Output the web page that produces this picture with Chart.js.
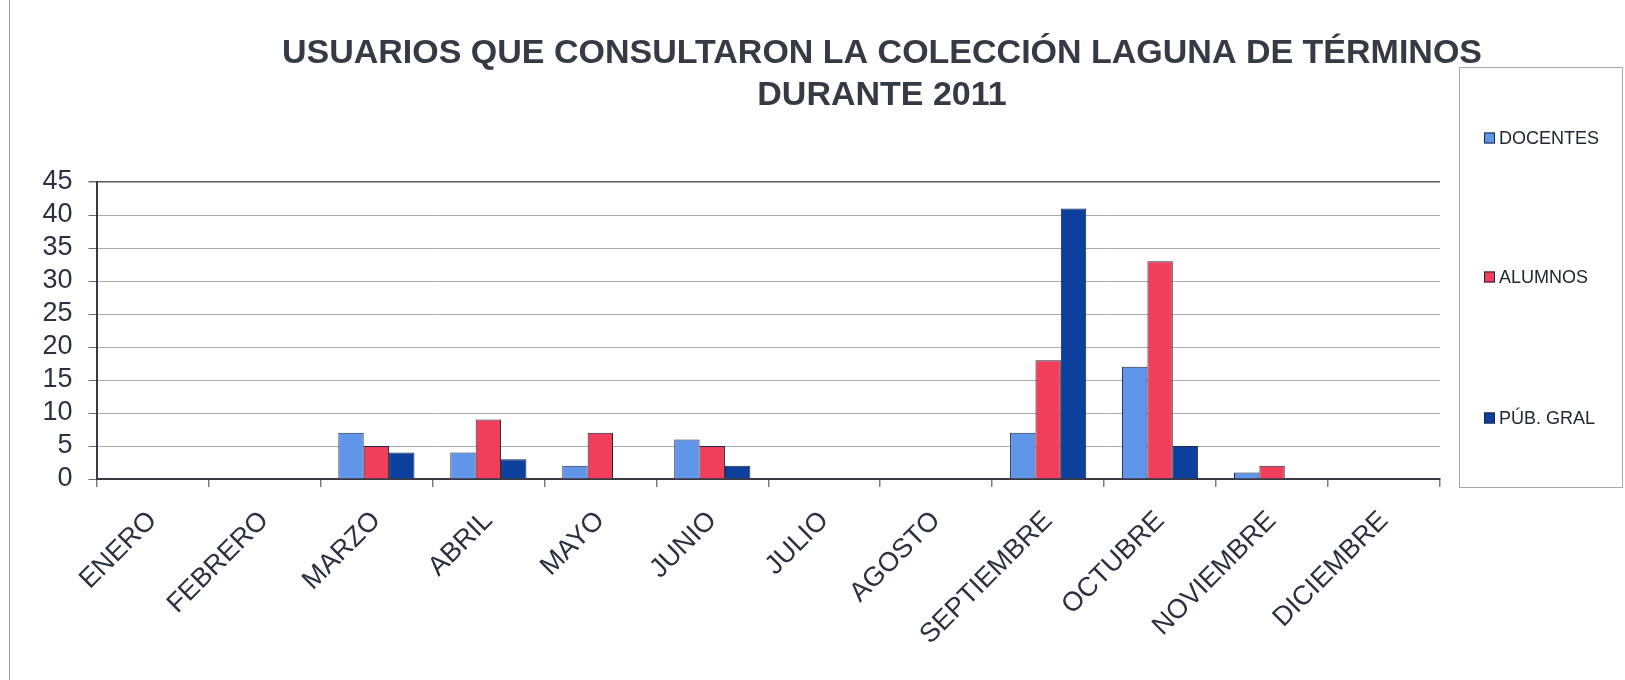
<!DOCTYPE html>
<html>
<head>
<meta charset="utf-8">
<script src="https://cdn.jsdelivr.net/npm/chart.js@4/dist/chart.umd.min.js"></script>
<style>
  html, body { margin: 0; padding: 0; background: #ffffff; }
  #wrap { width: 1625px; height: 680px; position: relative; }
</style>
</head>
<body>
<div id="wrap"><canvas id="c" width="1625" height="680"></canvas></div>
<script>
const titleLines = ['USUARIOS QUE CONSULTARON LA COLECCIÓN LAGUNA DE TÉRMINOS', 'DURANTE 2011'];
const months = ['ENERO', 'FEBRERO', 'MARZO', 'ABRIL', 'MAYO', 'JUNIO', 'JULIO', 'AGOSTO', 'SEPTIEMBRE', 'OCTUBRE', 'NOVIEMBRE', 'DICIEMBRE'];
const seriesNames = ['DOCENTES', 'ALUMNOS', 'PÚB. GRAL'];
const docentes = [0, 0, 7, 4, 2, 6, 0, 0, 7, 17, 1, 0];
const alumnos  = [0, 0, 5, 9, 7, 5, 0, 0, 18, 33, 2, 0];
const pubGral  = [0, 0, 4, 3, 0, 2, 0, 0, 41, 5, 0, 0];
const yTicks = [0, 5, 10, 15, 20, 25, 30, 35, 40, 45];
const seriesColors = ['#5f96ea', '#f03e5b', '#0d3f9c'];

const FONT = "'Liberation Sans', Arial, sans-serif";

const titlePlugin = {
  id: 'excelTitle',
  afterDraw(chart) {
    const ctx = chart.ctx;
    ctx.save();
    ctx.font = 'bold 34px ' + FONT;
    ctx.fillStyle = '#353a44';
    ctx.textAlign = 'center';
    ctx.textBaseline = 'alphabetic';
    ctx.fillText(titleLines[0], 882, 63);
    ctx.fillText(titleLines[1], 882, 105);
    ctx.restore();
  }
};

const legendPlugin = {
  id: 'excelLegend',
  afterDraw(chart) {
    const ctx = chart.ctx;
    ctx.save();
    ctx.strokeStyle = '#a8a8a8';
    ctx.lineWidth = 1;
    ctx.strokeRect(1459.5, 67.5, 163, 420);
    const ys = [138, 277, 418];
    ctx.font = '18px ' + FONT;
    ctx.textBaseline = 'middle';
    ctx.textAlign = 'left';
    chart.data.datasets.forEach((ds, i) => {
      const y = ys[i];
      ctx.fillStyle = ds.backgroundColor;
      ctx.fillRect(1484, y - 5.5, 11, 11);
      ctx.strokeStyle = '#1c2540';
      ctx.strokeRect(1484.5, y - 5, 10, 10);
      ctx.fillStyle = '#222630';
      ctx.fillText(ds.label, 1499, y + 1);
    });
    ctx.restore();
  }
};

const framePlugin = {
  id: 'frame',
  beforeDraw(chart) {
    const ctx = chart.ctx;
    ctx.save();
    ctx.fillStyle = '#ffffff';
    ctx.fillRect(0, 0, chart.width, chart.height);
    ctx.strokeStyle = '#9a9aa6';
    ctx.lineWidth = 1;
    ctx.beginPath();
    ctx.moveTo(9.5, 0);
    ctx.lineTo(9.5, 680);
    ctx.stroke();
    ctx.restore();
  }
};

new Chart(document.getElementById('c'), {
  type: 'bar',
  data: {
    labels: months,
    datasets: [
      { label: seriesNames[0], data: docentes, backgroundColor: seriesColors[0] },
      { label: seriesNames[1], data: alumnos, backgroundColor: seriesColors[1] },
      { label: seriesNames[2], data: pubGral, backgroundColor: seriesColors[2] }
    ]
  },
  options: {
    responsive: false,
    animation: false,
    devicePixelRatio: 1,
    layout: { padding: { left: 42.5, right: 185, top: 182, bottom: 0 } },
    datasets: {
      bar: {
        categoryPercentage: 0.68,
        barPercentage: 1.0,
        borderColor: '#1c2540',
        borderWidth: 1,
        borderSkipped: 'start'
      }
    },
    plugins: {
      legend: { display: false },
      title: { display: false },
      tooltip: { enabled: false }
    },
    scales: {
      x: {
        offset: true,
        grid: {
          offset: true,
          drawOnChartArea: true,
          color: (c) => (c.index === months.length ? '#5a5a64' : 'rgba(0,0,0,0)'),
          tickColor: '#7a7a84',
          tickLength: 8,
          lineWidth: 1.5
        },
        border: { display: true, color: '#3a3a44', width: 2 },
        ticks: {
          minRotation: 45,
          maxRotation: 45,
          autoSkip: false,
          padding: 18,
          color: '#2b3140',
          font: { family: FONT, size: 27 }
        },
        afterFit(axis) { axis.height = 201; }
      },
      y: {
        min: 0,
        max: 45,
        afterBuildTicks(axis) { axis.ticks = yTicks.map(v => ({ value: v })); },
        grid: {
          color: (c) => (c.tick && c.tick.value === 45 ? '#5a5a64' : '#a9a9b0'),
          lineWidth: (c) => (c.tick && c.tick.value === 45 ? 1.5 : 1),
          tickColor: '#6a6a74',
          tickLength: 8
        },
        border: { display: true, color: '#3a3a44', width: 2 },
        ticks: {
          autoSkip: false,
          padding: 16,
          color: '#2b3140',
          font: { family: FONT, size: 27 }
        },
        afterFit(axis) { axis.width = 54; }
      }
    }
  },
  plugins: [framePlugin, titlePlugin, legendPlugin]
});
</script>
</body>
</html>
